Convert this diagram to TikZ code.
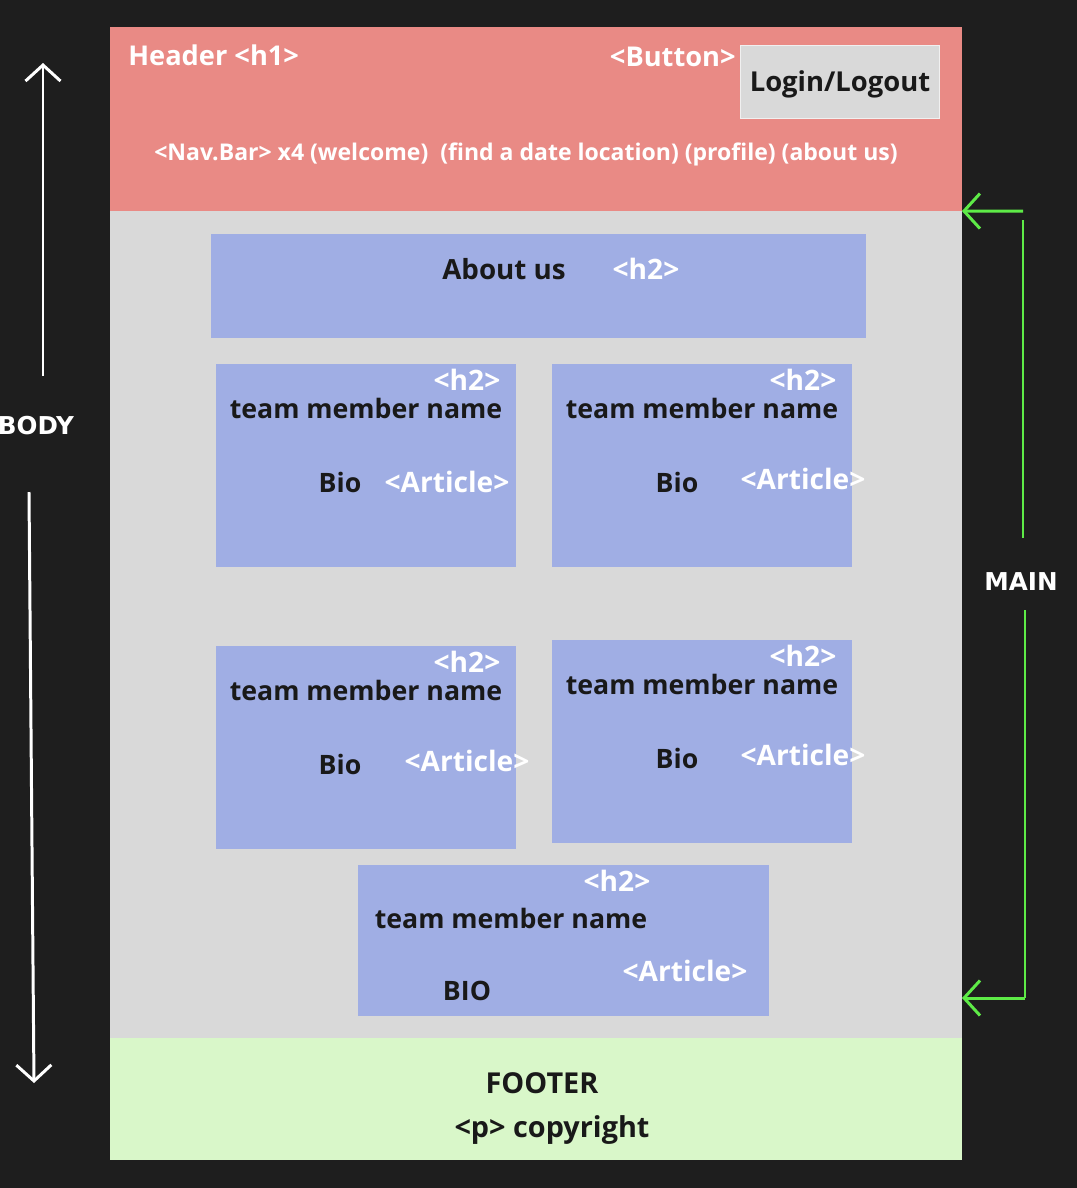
\documentclass[tikz,border=0pt]{standalone}
\usepackage{fontspec}
\setmainfont{Open Sans}
\newfontfamily\sidefont{DejaVu Sans}
\usepackage{xcolor}
\usetikzlibrary{positioning, arrows.meta}
\definecolor{pagebg}{HTML}{1E1E1E}
\definecolor{headred}{HTML}{E98A85}
\definecolor{maingray}{HTML}{D9D9D9}
\definecolor{cardblue}{HTML}{A0AEE4}
\definecolor{footgreen}{HTML}{D9F7C9}
\definecolor{markgreen}{HTML}{5EEB47}
\tikzstyle{region} = [rectangle, inner sep=0pt, outer sep=0pt, draw=none]
\tikzstyle{card} = [rectangle, inner sep=0pt, outer sep=0pt, fill=cardblue, minimum width=6cm, minimum height=4.06cm]
\tikzstyle{dtext} = [text=black!90, inner sep=0pt, font=\fontsize{15.2}{18}\selectfont\bfseries]
\tikzstyle{wtext} = [text=white, inner sep=0pt, font=\fontsize{16}{19}\selectfont\bfseries]
\tikzstyle{hdrtext} = [text=white, inner sep=0pt, font=\fontsize{15.5}{18}\selectfont\bfseries]
\tikzstyle{navtext} = [text=white, inner sep=0pt, font=\fontsize{13.1}{15}\selectfont\bfseries]
\tikzstyle{side} = [text=white, inner sep=0pt, font=\fontsize{14}{16}\selectfont\sidefont\bfseries]
\tikzstyle{bodyarrow} = [white, line width=1.7pt, -{Straight Barb[length=3.2mm, width=7mm]}]
\tikzstyle{mainarrow} = [markgreen, line width=1.7pt, -{Straight Barb[length=3.2mm, width=7mm]}]

\begin{document}
\begin{tikzpicture}[x=0.02cm, y=-0.02cm]
		\fill[pagebg] (0,0) rectangle (1077,1188);
		\useasboundingbox (0,0) rectangle (1077,1188);
		% page sections
		\node (header) [region, fill=headred, minimum width=17.04cm, minimum height=3.68cm] at (536,119) {};
		\node (main) [region, fill=maingray, minimum width=17.04cm, minimum height=16.54cm] at (536,624.5) {};
		\node (footer) [region, fill=footgreen, minimum width=17.04cm, minimum height=2.44cm] at (536,1099) {};
		% header
		\node (hdrtitle) [hdrtext, anchor=west] at (128,55) {Header <h1>};
		\node (btntag) [hdrtext, anchor=east] at (736,57) {<Button>};
		\node (login) [region, fill=maingray, draw=white!88!gray, minimum width=3.98cm, minimum height=1.46cm] at (839.5,81.5) {};
		\node (logintext) [dtext, font=\fontsize{15.6}{18}\selectfont\bfseries] at (840,84) {Login/Logout};
		\node (navbar) [navtext] at (526,154) {<Nav.Bar> x4 (welcome)\ \ (find a date location) (profile) (about us)};
		% about us
		\node (about) [region, fill=cardblue, minimum width=13.1cm, minimum height=2.08cm] at (538.5,286) {};
		\node (abouttitle) [dtext, font=\fontsize{15.8}{18}\selectfont\bfseries] at (504,269) {About us};
		\node (abouttag) [wtext] at (646,269) {<h2>};
		% team member cards
		\node (card1) [card] at (366,465.5) {};
		\node (card2) [card] at (702,465.5) {};
		\node (card3) [card] at (366,747.5) {};
		\node (card4) [card] at (702,741.5) {};
		\node (card5) [card, minimum width=8.22cm, minimum height=3.02cm] at (563.5,940.5) {};
		\node (tag1) [wtext] at (467,380) {<h2>};
		\node (name1) [dtext] at (366,408) {team member name};
		\node (bio1) [dtext] at (340,482) {Bio};
		\node (art1) [wtext] at (447,482) {<Article>};
		\node (tag2) [wtext] at (803,380) {<h2>};
		\node (name2) [dtext] at (702,408) {team member name};
		\node (bio2) [dtext] at (677,482) {Bio};
		\node (art2) [wtext] at (803,479) {<Article>};
		\node (tag3) [wtext] at (467,662) {<h2>};
		\node (name3) [dtext] at (366,690) {team member name};
		\node (bio3) [dtext] at (340,764) {Bio};
		\node (art3) [wtext] at (467,761) {<Article>};
		\node (tag4) [wtext] at (803,656) {<h2>};
		\node (name4) [dtext] at (702,684) {team member name};
		\node (bio4) [dtext] at (677,758) {Bio};
		\node (art4) [wtext] at (803,755) {<Article>};
		\node (tag5) [wtext] at (617,881) {<h2>};
		\node (name5) [dtext] at (511,918) {team member name};
		\node (bio5) [dtext] at (467,991) {BIO};
		\node (art5) [wtext] at (685,971) {<Article>};
		% footer
		\node (foottitle) [dtext, font=\fontsize{16.4}{19}\selectfont\bfseries] at (542,1083) {FOOTER};
		\node (copyright) [dtext, font=\fontsize{16.4}{19}\selectfont\bfseries] at (552,1130) {<p> copyright};
		% body marker
		\node (body) [side] at (36,426) {BODY};
		\coordinate (bodytop) at (43,63);
		\coordinate (bodybot) at (34,1083);
		\draw [bodyarrow] (43,376) -- (bodytop);
		\draw [bodyarrow] (29,492) -- (bodybot);
		% main marker
		\node (mainlbl) [side] at (1021,582) {MAIN};
		\coordinate (maintop) at (1023,211);
		\coordinate (mainbot) at (1025,998);
		\draw [mainarrow] (maintop) -- (main.north east);
		\draw [markgreen, line width=1.1pt] (1023,220) -- (1023,538);
		\draw [markgreen, line width=1.1pt] (1025,610) -- (mainbot);
		\draw [mainarrow] (mainbot) -- (962,998);
	\end{tikzpicture}
\end{document}
